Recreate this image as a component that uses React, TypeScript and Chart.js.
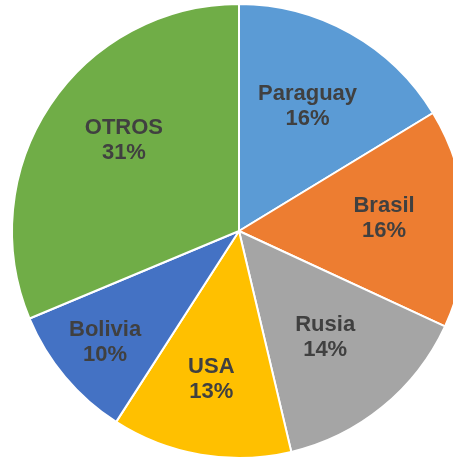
import React, { useEffect, useRef } from "react";
import { Chart, registerables } from "chart.js";

Chart.register(...registerables);

const categories = ["Paraguay", "Brasil", "Rusia", "USA", "Bolivia", "OTROS"];
const shares = [16.3, 15.6, 14.4, 12.8, 9.6, 31.3];
const colors = ["#5B9BD5", "#ED7D31", "#A5A5A5", "#FFC000", "#4472C4", "#70AD47"];
// label placement styles: distance from centre (fraction of radius) and angular nudge (degrees)
const labelRadius = [0.634, 0.642, 0.595, 0.655, 0.762, 0.652];
const labelNudge = [-0.9, -2.3, -0.4, 1.0, 0.7, 5.3];

const labelPlugin = {
  id: "sliceLabels",
  afterDatasetsDraw(chart: any) {
    const ctx = chart.ctx;
    const meta = chart.getDatasetMeta(0);
    const total = shares.reduce((a, b) => a + b, 0);
    ctx.save();
    ctx.font = "bold 22px 'Liberation Sans', Arial, sans-serif";
    ctx.fillStyle = "#404040";
    ctx.textAlign = "center";
    ctx.textBaseline = "middle";
    meta.data.forEach((arc: any, i: number) => {
      const { x, y, startAngle, endAngle, outerRadius } = arc.getProps(
        ["x", "y", "startAngle", "endAngle", "outerRadius"],
        true
      );
      const mid = (startAngle + endAngle) / 2 + (labelNudge[i] * Math.PI) / 180;
      const r = outerRadius * labelRadius[i];
      const cx = x + Math.cos(mid) * r;
      const cy = y + Math.sin(mid) * r + 2;
      ctx.fillText(categories[i], cx, cy - 12.5);
      ctx.fillText(Math.round((shares[i] / total) * 100) + "%", cx, cy + 12.5);
    });
    ctx.restore();
  },
};

export default function App() {
  const ref = useRef<HTMLCanvasElement>(null);
  useEffect(() => {
    if (!ref.current) return;
    const chart = new Chart(ref.current, {
      type: "pie",
      data: {
        labels: categories,
        datasets: [
          {
            data: shares,
            backgroundColor: colors,
            borderColor: "#ffffff",
            borderWidth: 2,
          },
        ],
      },
      options: {
        responsive: false,
        animation: false,
        layout: { padding: { top: 3, bottom: 3, left: 0, right: 0 } },
        plugins: {
          legend: { display: false },
          tooltip: { enabled: false },
        },
      },
      plugins: [labelPlugin],
    });
    return () => chart.destroy();
  }, []);
  return (
    <div
      style={{
        position: "fixed",
        left: 0,
        top: 0,
        width: 453,
        height: 459,
        overflow: "hidden",
        background: "#ffffff",
      }}
    >
      <canvas ref={ref} width={478} height={462} style={{ display: "block" }} />
    </div>
  );
}
